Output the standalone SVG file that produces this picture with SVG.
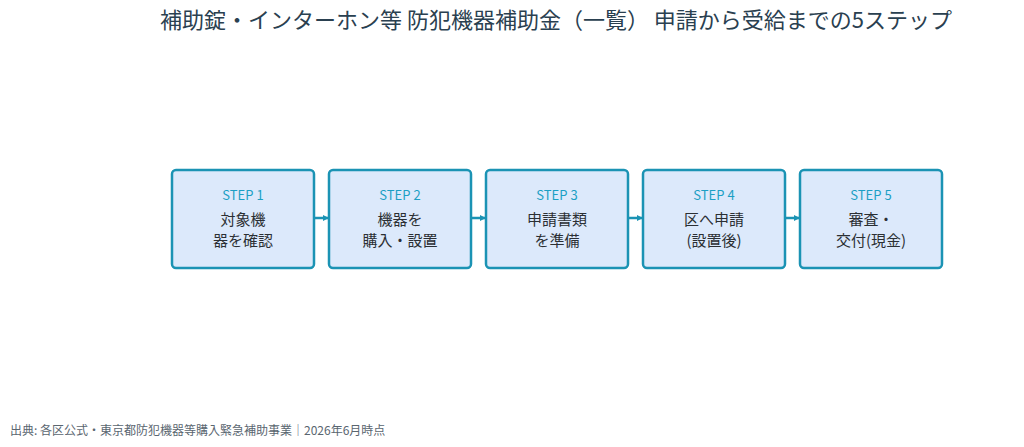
<svg xmlns="http://www.w3.org/2000/svg" width="1024" height="447" viewBox="0 0 1024 447">
<style>
text{font-family:"Noto Sans CJK JP","Noto Sans",sans-serif}
.box{fill:#dce9fb;stroke:#1b93b4;stroke-width:2.5}
.step{fill:#1b9fc4;font-size:13px;text-anchor:middle}
.lbl{fill:#2b2f33;font-size:15px;text-anchor:middle}
.con{stroke:#1b93b4;stroke-width:2.5;fill:none}
</style>
<defs><marker id="ah" markerWidth="6" markerHeight="6" refX="5" refY="3" orient="auto" markerUnits="userSpaceOnUse"><path d="M0,0 L6,3 L0,6z" fill="#1b93b4"/></marker></defs>
<rect width="1024" height="447" fill="#fff"/>
<text x="556" y="28" font-size="22" fill="#2a4050" text-anchor="middle">補助錠・インターホン等 防犯機器補助金（一覧） 申請から受給までの5ステップ</text>
<g id="n1"><rect class="box" x="172" y="170" width="142" height="98" rx="4"/><text class="step" x="243" y="200">STEP 1</text><text class="lbl" x="243" y="225">対象機</text><text class="lbl" x="243" y="246">器を確認</text></g>
<g id="n2"><rect class="box" x="329" y="170" width="142" height="98" rx="4"/><text class="step" x="400" y="200">STEP 2</text><text class="lbl" x="400" y="225">機器を</text><text class="lbl" x="400" y="246">購入・設置</text></g>
<g id="n3"><rect class="box" x="486" y="170" width="142" height="98" rx="4"/><text class="step" x="557" y="200">STEP 3</text><text class="lbl" x="557" y="225">申請書類</text><text class="lbl" x="557" y="246">を準備</text></g>
<g id="n4"><rect class="box" x="643" y="170" width="142" height="98" rx="4"/><text class="step" x="714" y="200">STEP 4</text><text class="lbl" x="714" y="225">区へ申請</text><text class="lbl" x="714" y="246">(設置後)</text></g>
<g id="n5"><rect class="box" x="800" y="170" width="142" height="98" rx="4"/><text class="step" x="871" y="200">STEP 5</text><text class="lbl" x="871" y="225">審査・</text><text class="lbl" x="871" y="246">交付(現金)</text></g>
<g id="connectors">
<line class="con" x1="315" y1="218" x2="328" y2="218" marker-end="url(#ah)"/>
<line class="con" x1="472" y1="218" x2="485" y2="218" marker-end="url(#ah)"/>
<line class="con" x1="629" y1="218" x2="642" y2="218" marker-end="url(#ah)"/>
<line class="con" x1="786" y1="218" x2="799" y2="218" marker-end="url(#ah)"/>
</g>
<text x="10" y="435" font-size="12" fill="#5a6670">出典: 各区公式・東京都防犯機器等購入緊急補助事業｜2026年6月時点</text>
</svg>
